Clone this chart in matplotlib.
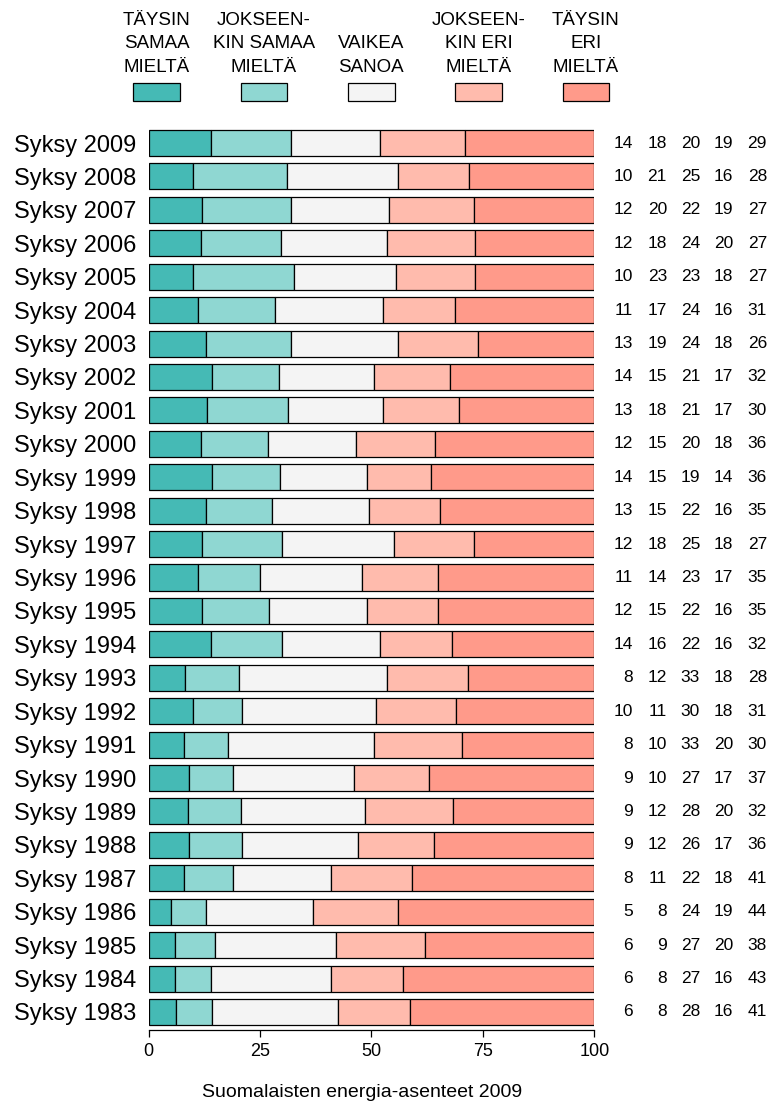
import matplotlib
matplotlib.use("Agg")
import matplotlib.pyplot as plt
import numpy as np
from matplotlib.patches import Rectangle

# data, top row first
years = ["Syksy 2009", "Syksy 2008", "Syksy 2007", "Syksy 2006", "Syksy 2005",
         "Syksy 2004", "Syksy 2003", "Syksy 2002", "Syksy 2001", "Syksy 2000",
         "Syksy 1999", "Syksy 1998", "Syksy 1997", "Syksy 1996", "Syksy 1995",
         "Syksy 1994", "Syksy 1993", "Syksy 1992", "Syksy 1991", "Syksy 1990",
         "Syksy 1989", "Syksy 1988", "Syksy 1987", "Syksy 1986", "Syksy 1985",
         "Syksy 1984", "Syksy 1983"]
taysin_samaa = [14, 10, 12, 12, 10, 11, 13, 14, 13, 12, 14, 13, 12, 11, 12, 14, 8, 10, 8, 9, 9, 9, 8, 5, 6, 6, 6]
jokseenkin_samaa = [18, 21, 20, 18, 23, 17, 19, 15, 18, 15, 15, 15, 18, 14, 15, 16, 12, 11, 10, 10, 12, 12, 11, 8, 9, 8, 8]
vaikea_sanoa = [20, 25, 22, 24, 23, 24, 24, 21, 21, 20, 19, 22, 25, 23, 22, 22, 33, 30, 33, 27, 28, 26, 22, 24, 27, 27, 28]
jokseenkin_eri = [19, 16, 19, 20, 18, 16, 18, 17, 17, 18, 14, 16, 18, 17, 16, 16, 18, 18, 20, 17, 20, 17, 18, 19, 20, 16, 16]
taysin_eri = [29, 28, 27, 27, 27, 31, 26, 32, 30, 36, 36, 35, 27, 35, 35, 32, 28, 31, 30, 37, 32, 36, 41, 44, 38, 43, 41]

categories = ["TÄYSIN\nSAMAA\nMIELTÄ", "JOKSEEN-\nKIN SAMAA\nMIELTÄ", "VAIKEA\nSANOA",
              "JOKSEEN-\nKIN ERI\nMIELTÄ", "TÄYSIN\nERI\nMIELTÄ"]
colors = ["#45bab5", "#8fd7d2", "#f4f4f4", "#ffbbad", "#ff9a8a"]

series = np.array([taysin_samaa, jokseenkin_samaa, vaikea_sanoa, jokseenkin_eri, taysin_eri], dtype=float)
shares = series / series.sum(axis=0) * 100  # bars are scaled to 100

plt.rcParams['font.family'] = ['Liberation Sans', 'DejaVu Sans']

W, H = 773, 1101
fig = plt.figure(figsize=(W / 100, H / 100), dpi=100)
# plot area in pixels
x0, x1, ytop, ybot = 148.5, 594.3, 125, 1030
ax = fig.add_axes([x0 / W, 1 - ybot / H, (x1 - x0) / W, (ybot - ytop) / H])

n = len(years)
ypos = np.arange(n)[::-1]
left = np.zeros(n)
for k in range(5):
    ax.barh(ypos, shares[k], left=left, height=0.78, color=colors[k],
            edgecolor="black", linewidth=0.9)
    left += shares[k]

ax.set_xlim(0, 100)
ax.set_ylim(-0.54, n - 1 + 0.54)
ax.set_yticks(ypos)
ax.set_yticklabels(years, fontsize=17)
ax.tick_params(axis="y", length=0, pad=9)
ax.set_xticks([0, 25, 50, 75, 100])
ax.tick_params(axis="x", length=5, width=0.9, labelsize=13, pad=4)
for s in ["top", "right", "left"]:
    ax.spines[s].set_visible(False)
ax.spines["bottom"].set_bounds(0, 100)
ax.spines["bottom"].set_linewidth(0.9)

# numbers to the right of bars
px = (x1 - x0) / 100
col_right = [633, 667, 700, 733, 767]
for i in range(n):
    for k in range(5):
        ax.text((col_right[k] - x0) / px, ypos[i], "%d" % series[k][i],
                ha="right", va="center", fontsize=12.5, clip_on=False)

# legend on an overlay in pixel coordinates
lg = fig.add_axes([0, 0, 1, 1], zorder=-1)
lg.set_xlim(0, W)
lg.set_ylim(H, 0)
lg.axis("off")
centers = [156.7, 264, 371.3, 478.6, 586]
for k in range(5):
    lg.add_patch(Rectangle((centers[k] - 23.3, 83.3), 46.6, 17.4,
                           facecolor=colors[k], edgecolor="black", linewidth=0.9))
    lg.text(centers[k], 76, categories[k], ha="center", va="bottom",
            multialignment="center", fontsize=13.5, linespacing=1.5)

fig.text(362 / W, 1 - 1097 / H, "Suomalaisten energia-asenteet 2009",
         ha="center", va="baseline", fontsize=14)

fig.savefig("out.png", dpi=100)
